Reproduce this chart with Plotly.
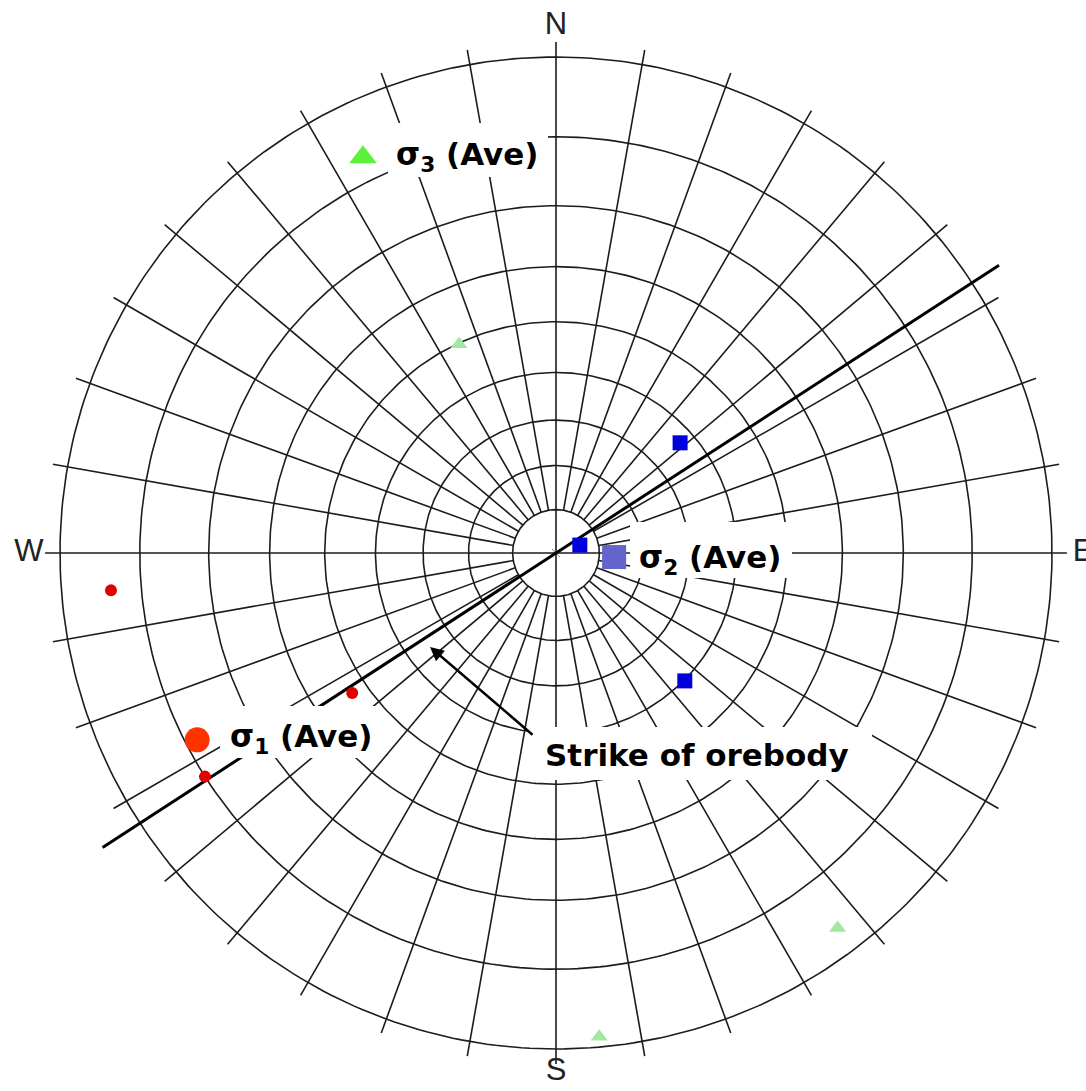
import numpy as np
import plotly.graph_objects as go

# ---------------- data (trend / plunge in degrees) ----------------
sigma1_trend = [265.2, 235.5, 237.5]
sigma1_plunge = [6.0, 37.0, 10.0]
sigma2_trend = [48.4, 71.6, 134.8]
sigma2_plunge = [53.0, 84.2, 49.8]
sigma3_trend = [335.1, 143.1, 174.9]
sigma3_plunge = [40.2, 3.2, 1.2]

ave_names = ["σ<sub>1</sub> (Ave)", "σ<sub>2</sub> (Ave)", "σ<sub>3</sub> (Ave)"]
ave_trend = [242.5, 94.0, 334.0]
ave_plunge = [11.6, 76.6, 6.8]

strike_azimuth = 57.0
strike_label = "Strike of orebody"

compass_labels = ["N", "E", "S", "W"]
compass_azimuths = [0, 90, 180, 270]

net_plunges = [80, 70, 60, 50, 40, 30, 20, 10, 0]
net_azimuths = list(range(0, 360, 10))

# ---------------- helpers ----------------
CX, CY, RPX = 556.0, 553.0, 496.0   # centre / radius in page pixels
W, H = 1086, 1091


def wulff(trend, plunge):
    t = np.radians(np.asarray(trend, float))
    r = np.tan(np.radians((90.0 - np.asarray(plunge, float)) / 2.0))
    return r * np.sin(t), r * np.cos(t)


def px(x, y):
    """page pixel -> data units"""
    return (x - CX) / RPX, (CY - y) / RPX


GRID = dict(color="#1c1c1c", width=1.6)
fig = go.Figure()

# small circles of the net
cx, cy = [], []
a = np.linspace(0, 2 * np.pi, 361)
for p in net_plunges:
    r = np.tan(np.radians((90 - p) / 2))
    cx += list(r * np.sin(a)) + [None]
    cy += list(r * np.cos(a)) + [None]
fig.add_trace(go.Scatter(x=cx, y=cy, mode="lines", line=GRID,
                         hoverinfo="skip", showlegend=False))

# radial lines
r_in = np.tan(np.radians((90 - net_plunges[0]) / 2))
r_out = 1.03
lx, ly = [], []
for az in net_azimuths:
    t = np.radians(az)
    start = 0.0 if az % 90 == 0 else r_in
    lx += [start * np.sin(t), r_out * np.sin(t), None]
    ly += [start * np.cos(t), r_out * np.cos(t), None]
fig.add_trace(go.Scatter(x=lx, y=ly, mode="lines", line=GRID,
                         hoverinfo="skip", showlegend=False))

# centre mark
fig.add_trace(go.Scatter(x=[0], y=[0], mode="markers",
                         marker=dict(symbol="x-thin-open", size=8, line=dict(color="#333", width=1)),
                         hoverinfo="skip", showlegend=False))

# strike line
ts = np.radians(strike_azimuth)
fig.add_trace(go.Scatter(x=[-1.09 * np.sin(ts), 1.065 * np.sin(ts)],
                         y=[-1.09 * np.cos(ts), 1.065 * np.cos(ts)],
                         mode="lines", line=dict(color="black", width=3),
                         hoverinfo="skip", showlegend=False))

# compass labels (S pulled in slightly so it stays on the page)
r_lab = np.array([1.0625, 1.0625, 1.046, 1.0625])
tk = np.radians(compass_azimuths)
fig.add_trace(go.Scatter(x=r_lab * np.sin(tk), y=r_lab * np.cos(tk), mode="text",
                         text=compass_labels, cliponaxis=False,
                         textfont=dict(family="Liberation Sans, Arial", size=31, color="#222"),
                         hoverinfo="skip", showlegend=False))

# individual measurements
x1, y1 = wulff(sigma1_trend, sigma1_plunge)
fig.add_trace(go.Scatter(x=x1, y=y1, mode="markers",
                         marker=dict(symbol="circle", size=12, color="#e00000"), showlegend=False))
x2, y2 = wulff(sigma2_trend, sigma2_plunge)
fig.add_trace(go.Scatter(x=x2, y=y2, mode="markers",
                         marker=dict(symbol="square", size=15, color="#0000dd"), showlegend=False))
x3, y3 = wulff(sigma3_trend, sigma3_plunge)
fig.add_trace(go.Scatter(x=x3, y=y3, mode="markers",
                         marker=dict(symbol="triangle-up", size=15, color="#a2e8a2"), showlegend=False))

# averages
ax_, ay_ = wulff(ave_trend, ave_plunge)
fig.add_trace(go.Scatter(x=[ax_[0]], y=[ay_[0]], mode="markers",
                         marker=dict(symbol="circle", size=25, color="#ff3300"), showlegend=False))
fig.add_trace(go.Scatter(x=[ax_[1]], y=[ay_[1]], mode="markers",
                         marker=dict(symbol="square", size=24, color="#6464cc"), showlegend=False))
fig.add_trace(go.Scatter(x=[ax_[2]], y=[ay_[2]], mode="markers",
                         marker=dict(symbol="triangle-up", size=24, color="#5cf23a"), showlegend=False))

annotations = []
# white label boxes (pixels: x0, x1, y0, y1)
boxes = [(220, 380, 706, 758), (630, 792, 522, 578), (388, 548, 123, 177), (527, 872, 727, 780)]
for x0, x1b, y0, y1b in boxes:
    bx, by = px((x0 + x1b) / 2, (y0 + y1b) / 2)
    annotations.append(dict(x=bx, y=by, xref="x", yref="y", text=" ", showarrow=False,
                            width=x1b - x0, height=y1b - y0, bgcolor="white",
                            borderpad=0, borderwidth=0, xanchor="center", yanchor="middle"))

label_font = dict(family="DejaVu Sans, Arial", size=31, color="black")
text_centres = [(301, 738), (710, 559), (467, 156)]
for name, (tx, ty) in zip(ave_names, text_centres):
    lx_, ly_ = px(tx, ty)
    annotations.append(dict(x=lx_, y=ly_, xref="x", yref="y", text="<b>" + name + "</b>",
                            showarrow=False, font=label_font, xanchor="center", yanchor="middle"))

sx, sy = px(697, 755)
annotations.append(dict(x=sx, y=sy, xref="x", yref="y", text="<b>" + strike_label + "</b>",
                        showarrow=False, font=label_font, xanchor="center", yanchor="middle"))

# arrow pointing at the strike line
hx, hy = px(430, 647)
tx_, ty_ = px(534, 736)
annotations.append(dict(x=hx, y=hy, xref="x", yref="y", ax=tx_, ay=ty_, axref="x", ayref="y",
                        text="", showarrow=True, arrowhead=2, arrowsize=1.1, arrowwidth=2.5,
                        arrowcolor="black"))

x_lo, y_hi = px(0, 0)
x_hi, y_lo = px(W, H)
fig.update_layout(
    width=W, height=H, margin=dict(l=0, r=0, t=0, b=0),
    paper_bgcolor="white", plot_bgcolor="white",
    xaxis=dict(range=[x_lo, x_hi], visible=False, fixedrange=True),
    yaxis=dict(range=[y_lo, y_hi], visible=False, fixedrange=True),
    annotations=annotations, showlegend=False,
)

fig.write_html("out.html", config={"displayModeBar": False},
               post_script="document.body.style.margin='0';")
